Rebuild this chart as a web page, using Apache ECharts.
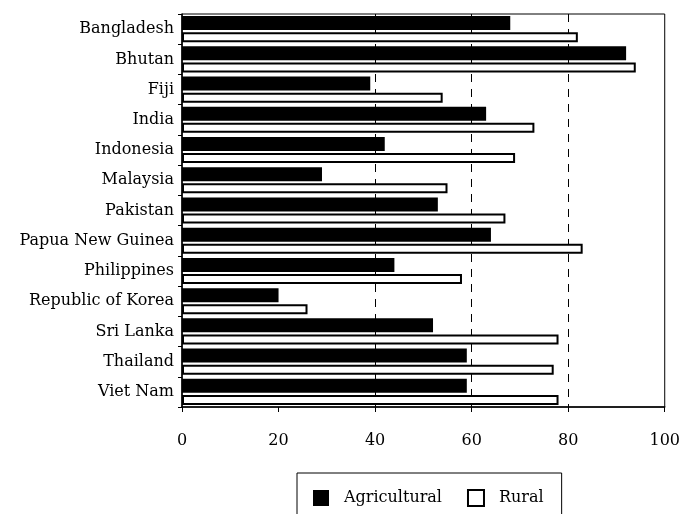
<!DOCTYPE html>
<html>
<head>
<meta charset="utf-8">
<script src="https://cdn.jsdelivr.net/npm/echarts@6/dist/echarts.min.js"></script>
<style>
  html, body { margin: 0; padding: 0; background: #fff; }
  #chart { width: 683px; height: 514px; }
</style>
</head>
<body>
<div id="chart"></div>
<script>
const countries = [
  "Bangladesh", "Bhutan", "Fiji", "India", "Indonesia", "Malaysia", "Pakistan",
  "Papua New Guinea", "Philippines", "Republic of Korea", "Sri Lanka", "Thailand", "Viet Nam"
];
const agricultural = [68, 92, 39, 63, 42, 29, 53, 64, 44, 20, 52, 59, 59];
const rural = [82, 94, 54, 73, 69, 55, 67, 83, 58, 26, 78, 77, 78];
const xTicks = [0, 20, 40, 60, 80, 100];
// dashed guides only show at 40, 60 and 80 in the original
const dashedAt = [40, 60, 80];

const serif = "DejaVu Serif";
const chart = echarts.init(document.getElementById("chart"));

chart.setOption({
  animation: false,
  backgroundColor: "#fff",
  grid: {
    left: 182, right: 14, top: 14, bottom: 107,
    show: true, borderColor: "#000", borderWidth: 1
  },
  legend: {
    left: 297, top: 473,
    padding: [16, 18, 14, 16],
    borderColor: "#000", borderWidth: 1,
    itemWidth: 16, itemHeight: 16, itemGap: 25,
    icon: "rect",
    textStyle: { fontFamily: serif, fontSize: 16, color: "#000", padding: [0, 0, 0, 10] },
    data: ["Agricultural", "Rural"]
  },
  xAxis: {
    type: "value",
    min: xTicks[0], max: xTicks[xTicks.length - 1], interval: 20,
    axisLine: { show: true, lineStyle: { color: "#000", width: 1.5 } },
    axisTick: { show: true, length: 5, lineStyle: { color: "#000" } },
    axisLabel: { margin: 26, fontFamily: serif, fontSize: 16, color: "#000" },
    splitLine: {
      show: true,
      lineStyle: {
        color: xTicks.map(v => dashedAt.includes(v) ? "#000" : "rgba(0,0,0,0)"),
        type: [8, 7], width: 1
      }
    }
  },
  yAxis: {
    type: "category",
    inverse: true,
    data: countries,
    axisLine: { show: true, lineStyle: { color: "#000", width: 1.5 } },
    axisTick: { show: true, length: 4, lineStyle: { color: "#000" } },
    axisLabel: { margin: 8, fontFamily: serif, fontSize: 16, color: "#000" }
  },
  series: [
    {
      name: "Agricultural",
      type: "bar",
      data: agricultural,
      barWidth: 14,
      barGap: "15%",
      itemStyle: { color: "#000", borderColor: "#000", borderWidth: 0 }
    },
    {
      name: "Rural",
      type: "bar",
      data: rural,
      barWidth: 10,
      itemStyle: { color: "#fff", borderColor: "#000", borderWidth: 2 }
    }
  ]
});
</script>
</body>
</html>
